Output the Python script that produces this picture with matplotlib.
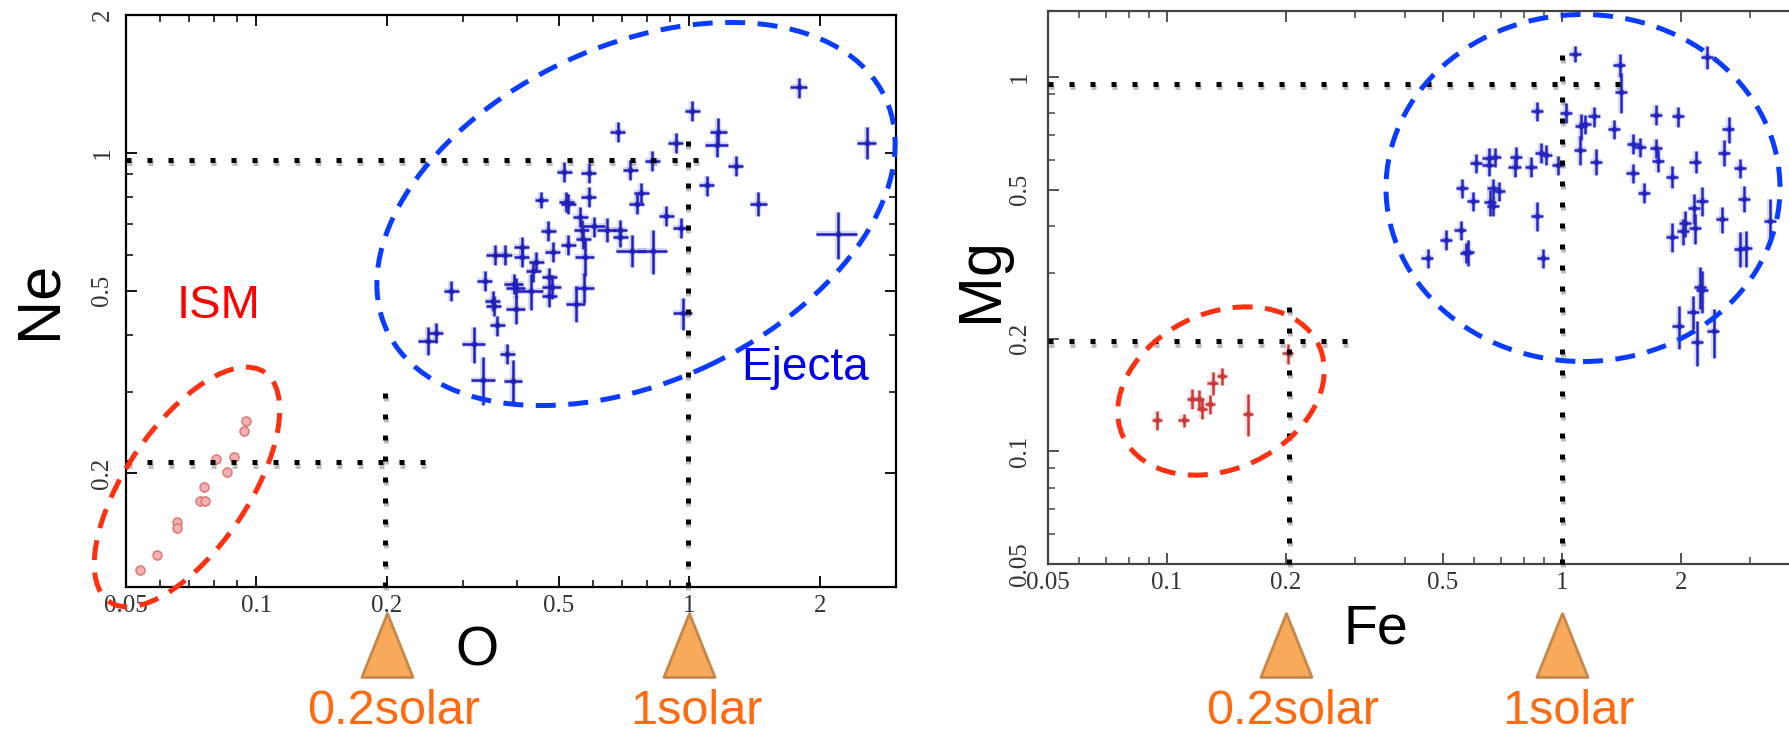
import matplotlib
matplotlib.use("Agg")
import matplotlib.pyplot as plt
import matplotlib.patheffects as pe
from matplotlib.patches import Ellipse
from matplotlib.path import Path
from matplotlib.ticker import FixedLocator, FixedFormatter, NullFormatter
from matplotlib.transforms import blended_transform_factory
import numpy as np

plt.rcParams["font.family"] = ["Liberation Serif", "DejaVu Serif"]
SANS = ["Liberation Sans", "DejaVu Sans"]

# ---- left panel: O vs Ne (solar units) ----
ism_o = [0.0538, 0.0589, 0.0655, 0.0655, 0.0743, 0.0762, 0.0759, 0.0806, 0.0857, 0.0888, 0.0935, 0.0948]
ism_ne = [0.123, 0.1325, 0.156, 0.152, 0.174, 0.174, 0.1866, 0.2144, 0.2014, 0.2173, 0.2476, 0.260]

ej_o = [1.79, 1.016, 0.683, 1.166, 1.158, 0.930, 2.57, 0.821, 0.731, 0.514, 0.586, 1.281, 1.097,
        0.774, 0.756, 0.455, 0.520, 0.525, 0.586, 1.443, 0.560, 0.885, 0.956, 0.472, 0.603, 0.645,
        0.690, 0.693, 0.565, 0.569, 2.20, 0.737, 0.823, 0.356, 0.375, 0.410, 0.410, 0.443, 0.484,
        0.525, 0.574, 0.436, 0.475, 0.393, 0.398, 0.337, 0.430, 0.482, 0.572, 0.475, 0.282, 0.352,
        0.354, 0.547, 0.398, 0.965, 0.360, 0.260, 0.249, 0.318, 0.380, 0.334, 0.392]
ej_ne = [1.39, 1.235, 1.111, 1.111, 1.043, 1.053, 1.053, 0.962, 0.917, 0.908, 0.903, 0.938, 0.849,
         0.817, 0.774, 0.789, 0.781, 0.774, 0.801, 0.774, 0.725, 0.728, 0.687, 0.676, 0.691, 0.680,
         0.680, 0.655, 0.680, 0.648, 0.665, 0.612, 0.612, 0.600, 0.600, 0.624, 0.594, 0.578, 0.609,
         0.630, 0.592, 0.551, 0.535, 0.518, 0.508, 0.525, 0.500, 0.510, 0.508, 0.486, 0.500, 0.475,
         0.463, 0.469, 0.456, 0.447, 0.420, 0.405, 0.389, 0.383, 0.364, 0.320, 0.318]
# relative errors
ej_o_err = [.045, .04, .04, .045, .06, .04, .05, .04, .04, .04, .04, .04, .04, .04, .04, .035, .04,
            .04, .04, .045, .04, .04, .04, .04, .06, .05, .04, .04, .04, .04, .11, .08, .08, .05,
            .04, .04, .04, .04, .04, .04, .05, .04, .04, .05, .05, .04, .07, .05, .05, .04, .04,
            .04, .04, .05, .05, .05, .04, .04, .05, .06, .04, .065, .05]
ej_ne_err = [.05, .05, .05, .07, .06, .05, .08, .05, .05, .05, .05, .05, .05, .05, .05, .04, .05,
             .05, .05, .06, .05, .05, .05, .05, .05, .06, .05, .05, .05, .05, .12, .08, .11, .05,
             .05, .05, .05, .05, .05, .05, .09, .05, .05, .05, .05, .05, .09, .06, .075, .05, .05,
             .05, .05, .09, .07, .08, .05, .05, .07, .09, .05, .12, .11]

# ---- right panel: Fe vs Mg ----
ism_fe = [0.0944, 0.1103, 0.1159, 0.1206, 0.123, 0.1288, 0.1305, 0.1381, 0.1608, 0.2020]
ism_mg = [0.121, 0.121, 0.1383, 0.1377, 0.1298, 0.1335, 0.152, 0.1585, 0.1259, 0.1825]
ism_mg_err = [.06, .04, .06, .06, .06, .06, .07, .05, .13, .06]

ej_fe = [1.081, 1.399, 1.409, 0.866, 1.022, 1.206, 1.117, 1.147, 1.735, 1.968, 1.354, 2.642, 1.515,
         1.581, 1.730, 1.110, 0.910, 0.886, 0.764, 0.759, 0.835, 0.678, 0.652, 0.606, 0.652, 0.979,
         1.222, 1.752, 2.18, 2.58, 2.82, 1.510, 1.898, 0.558, 0.671, 0.692, 1.613, 0.596, 0.658,
         0.669, 0.863, 2.26, 2.89, 2.16, 2.54, 3.36, 2.05, 2.03, 2.17, 1.898, 0.554, 0.510, 0.580,
         0.571, 0.457, 0.895, 2.82, 2.92, 2.24, 2.26, 2.15, 1.974, 2.20, 2.42, 2.33]
ej_mg = [1.154, 1.076, 0.913, 0.811, 0.802, 0.784, 0.739, 0.747, 0.793, 0.784, 0.725, 0.725, 0.663,
         0.649, 0.645, 0.639, 0.620, 0.627, 0.612, 0.575, 0.575, 0.611, 0.609, 0.588, 0.580, 0.581,
         0.594, 0.598, 0.594, 0.627, 0.571, 0.553, 0.542, 0.505, 0.505, 0.495, 0.490, 0.465, 0.462,
         0.451, 0.425, 0.467, 0.473, 0.446, 0.417, 0.413, 0.406, 0.387, 0.394, 0.374, 0.389, 0.367,
         0.340, 0.339, 0.328, 0.328, 0.348, 0.350, 0.275, 0.269, 0.236, 0.216, 0.196, 0.209, 1.128]
ej_mg_err = [.05, .07, .12, .06, .06, .06, .08, .06, .06, .06, .06, .08, .06, .06, .06, .09, .06,
             .06, .06, .06, .06, .06, .06, .06, .06, .06, .08, .07, .07, .08, .06, .06, .07, .06,
             .06, .06, .06, .06, .08, .06, .09, .09, .08, .09, .08, .14, .08, .08, .09, .09, .06,
             .06, .08, .06, .06, .06, .11, .11, .13, .13, .10, .13, .14, .15, .07]
ej_fe_err = 0.035

# dotted guides at 0.2 and 1 solar
ne_guide_x = [[0.05, 1.08], [0.99, 0.99], [0.05, 0.245], [0.198, 0.198]]
ne_guide_y = [[0.965, 0.965], [0.1128, 1.1], [0.211, 0.211], [0.1128, 0.31]]
mg_guide_x = [[0.05, 1.49], [1.0, 1.0], [0.05, 0.29], [0.204, 0.204]]
mg_guide_y = [[0.96, 0.96], [0.05, 1.15], [0.197, 0.197], [0.05, 0.26]]
solar_marks = [0.2, 1.0]
solar_labels = ["0.2solar", "1solar"]

W, H = 1790, 735
fig = plt.figure(figsize=(W / 100, H / 100), dpi=100)
axL = fig.add_axes([126 / W, 1 - 587 / H, 770 / W, 572 / H])
axR = fig.add_axes([1048 / W, 1 - 564 / H, 790 / W, 553 / H])


def style(ax, xlim, ylim, xmaj, xmin, ymaj, ymin, spine_col, ypad):
    ax.set_xscale("log"); ax.set_yscale("log")
    ax.set_xlim(*xlim); ax.set_ylim(*ylim)
    ax.xaxis.set_major_locator(FixedLocator(xmaj))
    ax.xaxis.set_major_formatter(FixedFormatter([f"{v:g}" for v in xmaj]))
    ax.xaxis.set_minor_locator(FixedLocator(xmin))
    ax.xaxis.set_minor_formatter(NullFormatter())
    ax.yaxis.set_major_locator(FixedLocator(ymaj))
    ax.yaxis.set_major_formatter(FixedFormatter([f"{v:g}" for v in ymaj]))
    ax.yaxis.set_minor_locator(FixedLocator(ymin))
    ax.yaxis.set_minor_formatter(NullFormatter())
    ax.tick_params(which="both", direction="in", top=True, right=True, color=spine_col,
                   labelsize=18, labelcolor="#333333")
    ax.tick_params(which="major", length=8, width=1.3)
    ax.tick_params(which="minor", length=5, width=1.1)
    ax.tick_params(axis="x", pad=6)
    ax.tick_params(axis="y", pad=ypad, labelrotation=90)
    for lbl in ax.get_yticklabels():
        lbl.set_va("center")
    for s in ax.spines.values():
        s.set_color(spine_col); s.set_linewidth(1.6)


style(axL, (0.05, 3.0), (0.1128, 2.0), [0.05, 0.1, 0.2, 0.5, 1, 2],
      [0.06, 0.07, 0.08, 0.09, 0.3, 0.4, 0.6, 0.7, 0.8, 0.9],
      [0.2, 0.5, 1, 2], [0.3, 0.4, 0.6, 0.7, 0.8, 0.9], "black", 9)
style(axR, (0.05, 5.0), (0.05, 1.5), [0.05, 0.1, 0.2, 0.5, 1, 2],
      [0.06, 0.07, 0.08, 0.09, 0.3, 0.4, 0.6, 0.7, 0.8, 0.9, 3, 4],
      [0.05, 0.1, 0.2, 0.5, 1], [0.06, 0.07, 0.08, 0.09, 0.3, 0.4, 0.6, 0.7, 0.8, 0.9], "#444444", 12)


def crosses(ax, x, y, xf, yf, col, halo):
    x = np.asarray(x); y = np.asarray(y)
    xe = x * np.asarray(xf); ye = y * np.asarray(yf)
    ax.errorbar(x, y, xerr=xe, yerr=ye, fmt="none", ecolor=halo, elinewidth=4.5, alpha=0.3, capsize=0)
    ax.errorbar(x, y, xerr=xe, yerr=ye, fmt="none", ecolor=col, elinewidth=1.8, capsize=0)
    ax.plot(x, y, "o", ms=4, color=col, mew=0)


crosses(axL, ej_o, ej_ne, ej_o_err, ej_ne_err, "#2020b8", "#7d82f0")
axL.errorbar(ism_o, ism_ne, xerr=np.asarray(ism_o) * 0.02, yerr=np.asarray(ism_ne) * 0.025,
             fmt="o", ms=6.5, mfc="#f4b0b0", mec="#e07070", mew=1, ecolor="#cc2020", elinewidth=1, capsize=0)
axL.plot(ism_o, ism_ne, "o", ms=2, color="#cc2020")

crosses(axR, ej_fe, ej_mg, ej_fe_err, ej_mg_err, "#2424c0", "#8a8ff0")
crosses(axR, ism_fe, ism_mg, 0.03, ism_mg_err, "#c83a3a", "#f0a0a0")

shadow = [pe.SimpleLineShadow(offset=(0.5, -2.5), shadow_color="0.25", alpha=0.35), pe.Normal()]
for ax, gx, gy in ((axL, ne_guide_x, ne_guide_y), (axR, mg_guide_x, mg_guide_y)):
    for xs, ys in zip(gx, gy):
        ax.plot(xs, ys, color="black", lw=3.6, linestyle=(0, (1, 3.2)), dash_capstyle="butt",
                clip_on=False, zorder=4, path_effects=shadow)

# orange arrow-heads and labels under the x axes
tri = Path([(-0.4, -0.5), (0.4, -0.5), (0.0, 0.5), (-0.4, -0.5)],
           [Path.MOVETO, Path.LINETO, Path.LINETO, Path.CLOSEPOLY])
for ax in (axL, axR):
    tr = blended_transform_factory(ax.transData, fig.transFigure)
    ax.plot(solar_marks, [0.122] * len(solar_marks), linestyle="none", marker=tri, ms=46,
            mfc="#f8a95a", mec="#c8874a", mew=2, transform=tr, clip_on=False)
    for xv, lab in zip(solar_marks, solar_labels):
        ax.text(xv * 1.04, 0.032, lab, transform=tr, ha="center", va="center", fontsize=35,
                color="#ff6a10", family=SANS)

# hand drawn regions (pixel geometry of the figure, in inches)
regions = [((636, 214), 550, 336, 25, "#0a3cff"),
           ((187, 487), 277, 123, 56, "#ff3010"),
           ((1583, 188), 394, 347, 0, "#0a3cff"),
           ((1221, 391), 216, 156, 25, "#ff3010")]
for (cx, cy), w, h, ang, col in regions:
    fig.add_artist(Ellipse((cx / 100, (H - cy) / 100), w / 100, h / 100, angle=ang,
                           transform=fig.dpi_scale_trans, fill=False, ec=col, lw=3.6,
                           linestyle=(0, (4, 2.5)), zorder=5))

fig.text(40 / W, 1 - 300 / H, "Ne", rotation=90, ha="center", va="center", fontsize=44, family=SANS)
fig.text(982 / W, 1 - 280 / H, "Mg", rotation=90, ha="center", va="center", fontsize=44, family=SANS)
fig.text(477 / W, 1 - 652 / H, "O", ha="center", va="center", fontsize=40, family=SANS)
fig.text(1376 / W, 1 - 630 / H, "Fe", ha="center", va="center", fontsize=40, family=SANS)
fig.text(219 / W, 1 - 306 / H, "ISM", ha="center", va="center", fontsize=34, color="#ff0000", family=SANS)
fig.text(805 / W, 1 - 368 / H, "Ejecta", ha="center", va="center", fontsize=33, color="#0000ee", family=SANS)

fig.savefig("out.png", dpi=100, facecolor="white")
